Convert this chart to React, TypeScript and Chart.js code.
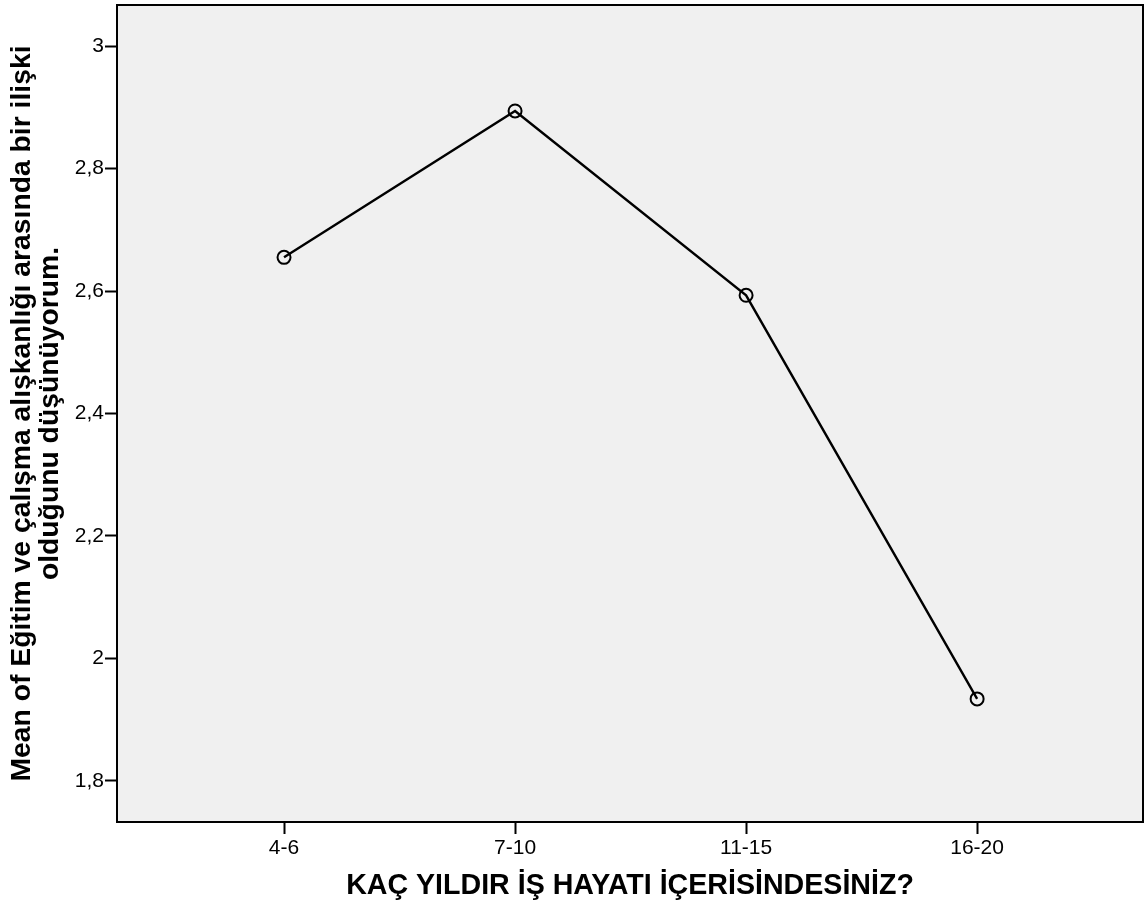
import React, { useEffect, useRef } from "react";
import { Chart, registerables } from "chart.js";

Chart.register(...registerables);

const categories = ["4-6", "7-10", "11-15", "16-20"];
const meanValues = [2.655, 2.894, 2.593, 1.934];
const yTicks = [1.8, 2.0, 2.2, 2.4, 2.6, 2.8, 3.0];
const yTitleLines = [
  "Mean of Eğitim ve çalışma alışkanlığı arasında bir ilişki",
  "olduğunu düşünüyorum.",
];
const xTitle = "KAÇ YILDIR İŞ HAYATI İÇERİSİNDESİNİZ?";

const FONT = "'Liberation Sans', Arial, sans-serif";

const areaPlugin = {
  id: "areaBg",
  beforeDraw(chart: any) {
    const { ctx, chartArea } = chart;
    ctx.save();
    ctx.fillStyle = "#f0f0f0";
    ctx.fillRect(chartArea.left, chartArea.top, chartArea.right - chartArea.left, chartArea.bottom - chartArea.top);
    ctx.restore();
  },
  afterDatasetsDraw(chart: any) {
    const { ctx, chartArea } = chart;
    ctx.save();
    ctx.strokeStyle = "#000";
    ctx.lineWidth = 2;
    ctx.strokeRect(chartArea.left, chartArea.top, chartArea.right - chartArea.left, chartArea.bottom - chartArea.top);
    ctx.restore();
  },
};

export default function App() {
  const ref = useRef<HTMLCanvasElement>(null);
  useEffect(() => {
    if (!ref.current) return;
    const data = meanValues.map((v, i) => ({ x: i, y: v }));
    const chart = new Chart(ref.current, {
      type: "line",
      data: {
        datasets: [
          {
            data,
            borderColor: "#000",
            borderWidth: 2.4,
            pointRadius: 6.5,
            pointBorderWidth: 2,
            pointBackgroundColor: "rgba(0,0,0,0)",
            pointBorderColor: "#000",
            tension: 0,
            clip: false,
          },
        ],
      },
      options: {
        responsive: false,
        animation: false,
        layout: { autoPadding: false, padding: { left: 0, top: 5, right: 3, bottom: 0 } },
        plugins: { legend: { display: false }, tooltip: { enabled: false } },
        scales: {
          x: {
            type: "linear",
            min: -0.723,
            max: 3.718,
            afterBuildTicks: (scale: any) => {
              scale.ticks = categories.map((_, i) => ({ value: i }));
            },
            afterFit: (scale: any) => {
              scale.height = 94;
              scale.paddingLeft = 0;
              scale.paddingRight = 0;
            },
            grid: { drawOnChartArea: false, tickLength: 12, tickWidth: 2, color: "#000" },
            border: { display: false },
            ticks: {
              color: "#000",
              font: { family: FONT, size: 21 },
              padding: 2,
              maxRotation: 0,
              autoSkip: false,
              callback: (v: any) => categories[v] ?? "",
            },
            title: {
              display: true,
              text: xTitle,
              color: "#000",
              font: { family: FONT, size: 28.6, weight: "bold", lineHeight: 1.2 },
              padding: { top: 0, bottom: 13 },
            },
          },
          y: {
            type: "linear",
            min: 1.733,
            max: 3.067,
            afterBuildTicks: (scale: any) => {
              scale.ticks = yTicks.map((v) => ({ value: v }));
            },
            afterFit: (scale: any) => {
              scale.width = 117;
              scale.paddingTop = 0;
              scale.paddingBottom = 0;
            },
            grid: { drawOnChartArea: false, tickLength: 12, tickWidth: 2, color: "#000" },
            border: { display: false },
            ticks: {
              color: "#000",
              font: { family: FONT, size: 21 },
              padding: 1,
              autoSkip: false,
              callback: (v: any) => String(Math.round(Number(v) * 10) / 10).replace(".", ","),
            },
            title: {
              display: true,
              text: yTitleLines,
              color: "#000",
              font: { family: FONT, size: 28.3, weight: "bold", lineHeight: 1.0 },
              padding: { top: 8, bottom: 0 },
            },
          },
        },
      },
      plugins: [areaPlugin],
    } as any);
    return () => chart.destroy();
  }, []);
  return (
    <div style={{ position: "absolute", left: 0, top: 0, width: 1146, height: 916, background: "#fff", overflow: "hidden" }}>
      <canvas ref={ref} width={1146} height={916} style={{ display: "block" }} />
    </div>
  );
}
